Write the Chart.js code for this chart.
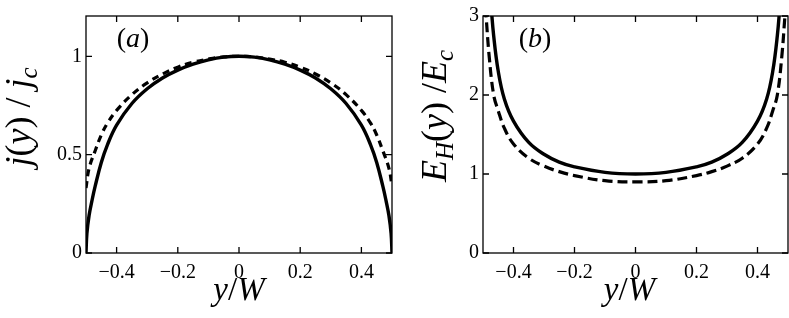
<!DOCTYPE html>
<html>
<head>
<meta charset="utf-8">
<script src="https://cdn.jsdelivr.net/npm/chart.js@4/dist/chart.umd.min.js"></script>
<style>
  body { margin: 0; background: #fff; }
  #wrap { position: relative; width: 789px; height: 318px; }
  canvas { position: absolute; top: 0; }
</style>
</head>
<body>
<div id="wrap">
  <canvas id="chartA" width="400" height="318" style="left:0"></canvas>
  <canvas id="chartB" width="389" height="318" style="left:400px"></canvas>
</div>
<script>
// panel (a): current density j(y)/jc
const aSolidX = [-0.5, -0.497, -0.49, -0.48, -0.47, -0.45, -0.43, -0.4, -0.35, -0.3, -0.25, -0.2, -0.15, -0.1, -0.05, 0,
                 0.05, 0.1, 0.15, 0.2, 0.25, 0.3, 0.35, 0.4, 0.43, 0.45, 0.47, 0.48, 0.49, 0.497, 0.5];
const aSolidY = [0, 0.1, 0.19, 0.27, 0.34, 0.46, 0.55, 0.65, 0.76, 0.835, 0.89, 0.93, 0.96, 0.982, 0.996, 1.0,
                 0.996, 0.982, 0.96, 0.93, 0.89, 0.835, 0.76, 0.65, 0.55, 0.46, 0.34, 0.27, 0.19, 0.1, 0];
const aDashX = [-0.5, -0.49, -0.47, -0.45, -0.43, -0.4, -0.35, -0.3, -0.25, -0.2, -0.15, -0.1, -0.05, 0,
                0.05, 0.1, 0.15, 0.2, 0.25, 0.3, 0.35, 0.4, 0.43, 0.45, 0.47, 0.49, 0.5];
const aDashY = [0.33, 0.43, 0.52, 0.6, 0.66, 0.725, 0.805, 0.865, 0.91, 0.945, 0.97, 0.986, 0.997, 1.0,
                0.997, 0.986, 0.97, 0.945, 0.91, 0.865, 0.805, 0.725, 0.66, 0.6, 0.52, 0.43, 0.34];

// panel (b): Hall field E_H(y)/Ec
const bSolidX = [-0.475, -0.465, -0.45, -0.43, -0.4, -0.35, -0.3, -0.25, -0.2, -0.1, 0,
                 0.1, 0.2, 0.25, 0.3, 0.35, 0.4, 0.43, 0.45, 0.465, 0.475];
const bSolidY = [3.2, 2.75, 2.3, 1.95, 1.67, 1.4, 1.25, 1.15, 1.09, 1.02, 1.0,
                 1.02, 1.09, 1.15, 1.25, 1.4, 1.67, 1.95, 2.3, 2.75, 3.2];
const bDashX = [-0.497, -0.49, -0.48, -0.465, -0.45, -0.43, -0.4, -0.35, -0.3, -0.25, -0.2, -0.1, 0,
                0.1, 0.2, 0.25, 0.3, 0.35, 0.4, 0.43, 0.45, 0.465, 0.48, 0.49, 0.497];
const bDashY = [3.3, 3.0, 2.5, 2.0, 1.8, 1.58, 1.38, 1.2, 1.1, 1.03, 0.98, 0.915, 0.9,
                0.915, 0.98, 1.03, 1.1, 1.2, 1.38, 1.58, 1.8, 2.0, 2.5, 3.0, 3.3];

const xTicks = [-0.4, -0.2, 0, 0.2, 0.4];
const xTickLabels = ['\u22120.4', '\u22120.2', '0', '0.2', '0.4'];
const aYTicks = [0, 0.5, 1];
const aYTickLabels = ['0', '0.5', '1'];
const bYTicks = [0, 1, 2, 3];
const bYTickLabels = ['0', '1', '2', '3'];

Chart.defaults.font.family = '"Liberation Serif", "Times New Roman", serif';
Chart.defaults.font.size = 20;
Chart.defaults.color = '#000';

function pts(xs, ys) {
  return xs.map((x, i) => ({ x: x, y: ys[i] }));
}

// draws a run of text pieces (font / baseline shift) centred on (cx, cy)
function drawRich(ctx, parts, cx, cy, rot) {
  ctx.save();
  ctx.translate(cx, cy);
  if (rot) ctx.rotate(-Math.PI / 2);
  ctx.fillStyle = '#000';
  ctx.textBaseline = 'alphabetic';
  let w = 0;
  parts.forEach(p => { ctx.font = p.font; w += ctx.measureText(p.t).width; });
  let x = -w / 2;
  parts.forEach(p => {
    ctx.font = p.font;
    ctx.fillText(p.t, x, p.dy || 0);
    x += ctx.measureText(p.t).width;
  });
  ctx.restore();
}

const frameAndTicks = {
  id: 'frameAndTicks',
  afterDatasetsDraw(chart) {
    const { ctx, chartArea: a, scales } = chart;
    const tl = 6;
    ctx.save();
    ctx.strokeStyle = '#000';
    ctx.lineWidth = 1.3;
    ctx.strokeRect(a.left, a.top, a.right - a.left, a.bottom - a.top);
    ctx.beginPath();
    scales.x.ticks.forEach(t => {
      const px = scales.x.getPixelForValue(t.value);
      ctx.moveTo(px, a.bottom); ctx.lineTo(px, a.bottom - tl);
      ctx.moveTo(px, a.top); ctx.lineTo(px, a.top + tl);
    });
    scales.y.ticks.forEach(t => {
      const py = scales.y.getPixelForValue(t.value);
      ctx.moveTo(a.left, py); ctx.lineTo(a.left + tl, py);
      ctx.moveTo(a.right, py); ctx.lineTo(a.right - tl, py);
    });
    ctx.stroke();
    ctx.restore();
  }
};

const titles = {
  id: 'titles',
  afterDraw(chart, args, opts) {
    const ctx = chart.ctx;
    const a = chart.chartArea;
    const it = 'italic 33px "Liberation Serif"';
    const up = '33px "Liberation Serif"';
    // x title
    drawRich(ctx, [{ t: 'y', font: it }, { t: '/', font: up }, { t: 'W', font: it }],
      (a.left + a.right) / 2 + opts.xTitleShift, 300, false);
    // y title
    drawRich(ctx, opts.yTitle, opts.yTitleX, opts.yTitleY, true);
    // panel letter
    drawRich(ctx, [{ t: '(', font: '28px "Liberation Serif"' }, { t: opts.panel, font: 'italic 28px "Liberation Serif"' },
      { t: ')', font: '28px "Liberation Serif"' }], opts.panelX, 47, false);
  }
};

function makeChart(id, cfg) {
  return new Chart(document.getElementById(id), {
    type: 'line',
    data: {
      datasets: [
        { data: pts(cfg.sx, cfg.sy), borderColor: '#000', borderWidth: 3.4, pointRadius: 0,
          tension: 0.4, clip: 0 },
        { data: pts(cfg.dx, cfg.dy), borderColor: '#000', borderWidth: 3.2, pointRadius: 0,
          borderDash: cfg.dash, tension: 0.4, clip: 0 }
      ]
    },
    options: {
      responsive: false,
      animation: false,
      layout: { padding: cfg.padding },
      plugins: { legend: { display: false }, tooltip: { enabled: false }, titles: cfg.titles },
      scales: {
        x: {
          type: 'linear', min: -0.5, max: 0.5,
          grid: { display: false, drawTicks: false }, border: { display: false },
          afterBuildTicks: s => { s.ticks = xTicks.map(v => ({ value: v })); },
          afterFit: s => { s.height = 65; },
          ticks: { autoSkip: false, maxRotation: 0, padding: 8,
            callback: v => xTickLabels[xTicks.indexOf(v)] }
        },
        y: {
          type: 'linear', min: 0, max: cfg.ymax,
          grid: { display: false, drawTicks: false }, border: { display: false },
          afterBuildTicks: s => { s.ticks = cfg.yt.map(v => ({ value: v })); },
          afterFit: s => { s.width = cfg.yw; },
          ticks: { autoSkip: false, padding: 4,
            callback: v => cfg.ytl[cfg.yt.indexOf(v)] }
        }
      }
    },
    plugins: [frameAndTicks, titles]
  });
}

const it36 = 'italic 36px "Liberation Serif"';
const up36 = '36px "Liberation Serif"';
const sub25 = 'italic 25px "Liberation Serif"';

makeChart('chartA', {
  sx: aSolidX, sy: aSolidY, dx: aDashX, dy: aDashY, dash: [7, 5],
  ymax: 1.205, yt: aYTicks, ytl: aYTickLabels, yw: 86,
  padding: { top: 12, right: 8, bottom: 0, left: 0 },
  titles: {
    panel: 'a', panelX: 133, xTitleShift: 0,
    yTitleX: 30, yTitleY: 117,
    yTitle: [{ t: 'j', font: it36 }, { t: '(', font: up36 }, { t: 'y', font: it36 }, { t: ') / ', font: up36 },
      { t: 'j', font: it36 }, { t: 'c', font: sub25, dy: 7 }]
  }
});

makeChart('chartB', {
  sx: bSolidX, sy: bSolidY, dx: bDashX, dy: bDashY, dash: [10, 5],
  ymax: 3, yt: bYTicks, ytl: bYTickLabels, yw: 83,
  padding: { top: 11, right: 1, bottom: 0, left: 0 },
  titles: {
    panel: 'b', panelX: 135, xTitleShift: -6,
    yTitleX: 46, yTitleY: 116,
    yTitle: [{ t: 'E', font: it36 }, { t: 'H', font: sub25, dy: 7 }, { t: '(', font: up36 }, { t: 'y', font: it36 },
      { t: ') /', font: up36 }, { t: 'E', font: it36 }, { t: 'c', font: sub25, dy: 7 }]
  }
});
</script>
</body>
</html>
